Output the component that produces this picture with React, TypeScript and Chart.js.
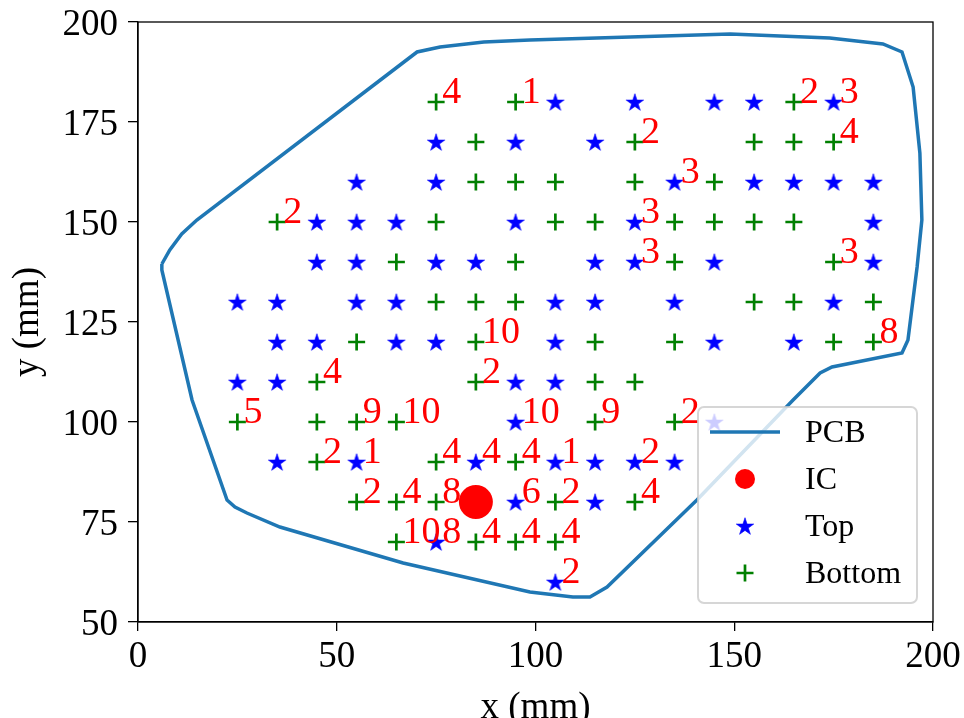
import React, { useEffect, useRef } from "react";
import { Chart, registerables } from "chart.js";

Chart.register(...registerables);

const FONT = "'Liberation Serif', 'Times New Roman', serif";

// PCB outline (mm)
const pcbX = [6, 8, 11, 14.8, 70.2, 76, 87, 98.6, 123.8, 149, 174, 187.4, 192.2, 195, 196.7, 197.2, 196, 193.7, 192.2, 174.6, 171.6, 164.8, 140.6, 118, 113.7, 109.4, 98.6, 66.7, 35.7, 27.4, 24.4, 22.4, 13.6, 6, 6];
const pcbY = [139.5, 143, 147, 150.5, 192.5, 193.75, 195, 195.5, 196.25, 197, 196, 194.5, 192.5, 183.75, 167.25, 150.5, 138.75, 120.5, 117.25, 113.75, 112.25, 105.5, 80.5, 58.75, 56.25, 56.25, 57.5, 64.75, 73.75, 77.25, 78.75, 80.5, 105.5, 138, 139.5];

// IC location
const icX = [85];
const icY = [80];

// Top-side points (stars)
const topX = [
  105, 125, 145, 155, 175,
  75, 95, 115,
  55, 75, 135, 155, 165, 175, 185,
  45, 55, 65, 95, 125, 185,
  45, 55, 75, 85, 115, 125, 145, 185,
  25, 35, 55, 65, 105, 115, 135, 175,
  35, 45, 65, 75, 105, 145, 165,
  25, 35, 95, 105,
  95, 145,
  35, 55, 85, 105, 115, 125, 135,
  95, 115,
  75,
  105,
];
const topY = [
  180, 180, 180, 180, 180,
  170, 170, 170,
  160, 160, 160, 160, 160, 160, 160,
  150, 150, 150, 150, 150, 150,
  140, 140, 140, 140, 140, 140, 140, 140,
  130, 130, 130, 130, 130, 130, 130, 130,
  120, 120, 120, 120, 120, 120, 120,
  110, 110, 110, 110,
  100, 100,
  90, 90, 90, 90, 90, 90, 90,
  80, 80,
  70,
  60,
];

// Bottom-side points (plus)
const bottomX = [
  75, 95, 165,
  85, 125, 155, 165, 175,
  85, 95, 105, 125, 145,
  35, 75, 105, 115, 135, 145, 155, 165,
  65, 95, 135, 175,
  75, 85, 95, 155, 165, 185,
  55, 85, 115, 135, 175, 185,
  45, 85, 115, 125,
  25, 45, 55, 65, 115, 135,
  45, 75, 95,
  55, 65, 75, 105, 125,
  65, 85, 95, 105,
];
const bottomY = [
  180, 180, 180,
  170, 170, 170, 170, 170,
  160, 160, 160, 160, 160,
  150, 150, 150, 150, 150, 150, 150, 150,
  140, 140, 140, 140,
  130, 130, 130, 130, 130, 130,
  120, 120, 120, 120, 120, 120,
  110, 110, 110, 110,
  100, 100, 100, 100, 100, 100,
  90, 90, 90,
  80, 80, 80, 80, 80,
  70, 70, 70, 70,
];

// Red count annotations
const labelX = [75, 95, 165, 175, 125, 175, 135, 35, 125, 125, 175, 85, 185, 45, 85, 25, 55, 65, 95, 115, 135, 45, 55, 75, 85, 95, 105, 125, 55, 65, 75, 95, 105, 125, 65, 75, 85, 95, 105, 105];
const labelY = [180, 180, 180, 180, 170, 170, 160, 150, 150, 140, 140, 120, 120, 110, 110, 100, 100, 100, 100, 100, 100, 90, 90, 90, 90, 90, 90, 90, 80, 80, 80, 80, 80, 80, 70, 70, 70, 70, 70, 60];
const labelText = ["4", "1", "2", "3", "2", "4", "3", "2", "3", "3", "3", "10", "8", "4", "2", "5", "9", "10", "10", "9", "2", "2", "1", "4", "4", "4", "1", "2", "2", "4", "8", "6", "2", "4", "10", "8", "4", "4", "4", "2"];

const xTicks = [0, 50, 100, 150, 200];
const yTicks = [50, 75, 100, 125, 150, 175, 200];

function makeStar(size: number, color: string): HTMLCanvasElement {
  const c = document.createElement("canvas");
  c.width = size;
  c.height = size;
  const ctx = c.getContext("2d")!;
  const cx = size / 2;
  const cy = size / 2 + 0.9;
  const R = 9.2;
  const r = R * 0.382;
  ctx.beginPath();
  for (let i = 0; i < 10; i++) {
    const a = -Math.PI / 2 + (i * Math.PI) / 5;
    const rr = i % 2 === 0 ? R : r;
    ctx.lineTo(cx + rr * Math.cos(a), cy + rr * Math.sin(a));
  }
  ctx.closePath();
  ctx.fillStyle = color;
  ctx.fill();
  ctx.strokeStyle = color;
  ctx.lineWidth = 0.6;
  ctx.stroke();
  return c;
}

export default function App() {
  const ref = useRef<HTMLCanvasElement | null>(null);

  useEffect(() => {
    const canvas = ref.current!;
    const star = makeStar(20, "#0000ff");

    const framePlugin = {
      id: "frame",
      afterDraw(chart: any) {
        const { ctx, chartArea } = chart;
        ctx.save();
        ctx.strokeStyle = "#000";
        ctx.lineWidth = 1.3;
        ctx.strokeRect(chartArea.left, chartArea.top, chartArea.right - chartArea.left, chartArea.bottom - chartArea.top);
        ctx.restore();
      },
    };

    const labelPlugin = {
      id: "countLabels",
      afterDatasetsDraw(chart: any) {
        const { ctx } = chart;
        const xs = chart.scales.x;
        const ys = chart.scales.y;
        ctx.save();
        ctx.font = `38px ${FONT}`;
        ctx.fillStyle = "#ff0000";
        ctx.textAlign = "left";
        ctx.textBaseline = "alphabetic";
        labelX.forEach((v, i) => {
          ctx.fillText(labelText[i], xs.getPixelForValue(v) + 6, ys.getPixelForValue(labelY[i]) + 1);
        });
        ctx.restore();
      },
    };

    const legendPlugin = {
      id: "boxLegend",
      afterDatasetsDraw(chart: any) {
        const { ctx, chartArea } = chart;
        const right = chartArea.right - 16;
        const bottom = chartArea.bottom - 19;
        const w = 219;
        const h = 196;
        const left = right - w;
        const top = bottom - h;
        ctx.save();
        ctx.beginPath();
        if ((ctx as any).roundRect) (ctx as any).roundRect(left, top, w, h, 6);
        else ctx.rect(left, top, w, h);
        ctx.fillStyle = "rgba(255,255,255,0.8)";
        ctx.fill();
        ctx.strokeStyle = "rgba(204,204,204,0.8)";
        ctx.lineWidth = 2;
        ctx.stroke();

        const hx = left + 47;
        ctx.font = `32px ${FONT}`;
        ctx.textAlign = "left";
        ctx.textBaseline = "middle";
        chart.data.datasets.forEach((ds: any, i: number) => {
          const cy = top + 25 + i * 47;
          if (ds.label === "PCB") {
            ctx.strokeStyle = ds.borderColor;
            ctx.lineWidth = ds.borderWidth;
            ctx.beginPath();
            ctx.moveTo(hx - 35, cy);
            ctx.lineTo(hx + 35, cy);
            ctx.stroke();
          } else if (ds.label === "IC") {
            ctx.fillStyle = ds.backgroundColor;
            ctx.beginPath();
            ctx.arc(hx, cy, 10, 0, Math.PI * 2);
            ctx.fill();
          } else if (ds.label === "Top") {
            ctx.drawImage(star, hx - star.width / 2, cy - star.height / 2);
          } else {
            ctx.strokeStyle = ds.borderColor;
            ctx.lineWidth = ds.borderWidth;
            ctx.beginPath();
            ctx.moveTo(hx - 8.5, cy);
            ctx.lineTo(hx + 8.5, cy);
            ctx.moveTo(hx, cy - 8.5);
            ctx.lineTo(hx, cy + 8.5);
            ctx.stroke();
          }
          ctx.fillStyle = "#000";
          ctx.fillText(ds.label, left + 107, cy + 2);
        });
        ctx.restore();
      },
    };

    const tickFont = { family: FONT, size: 37 };

    const chart = new Chart(canvas, {
      type: "scatter",
      data: {
        datasets: [
          {
            label: "PCB",
            type: "line",
            data: pcbX.map((x, i) => ({ x, y: pcbY[i] })),
            borderColor: "#1f77b4",
            backgroundColor: "#1f77b4",
            borderWidth: 3.5,
            pointRadius: 0,
            showLine: true,
            fill: false,
            tension: 0,
            order: 4,
          } as any,
          {
            label: "IC",
            data: icX.map((x, i) => ({ x, y: icY[i] })),
            pointStyle: "circle",
            pointRadius: 17,
            backgroundColor: "#ff0000",
            borderColor: "#ff0000",
            borderWidth: 0,
            order: 3,
          },
          {
            label: "Top",
            data: topX.map((x, i) => ({ x, y: topY[i] })),
            pointStyle: star as any,
            pointRadius: 9,
            backgroundColor: "#0000ff",
            borderColor: "#0000ff",
            order: 2,
          },
          {
            label: "Bottom",
            data: bottomX.map((x, i) => ({ x, y: bottomY[i] })),
            pointStyle: "cross",
            pointRadius: 8.5,
            backgroundColor: "#008000",
            borderColor: "#008000",
            borderWidth: 2.7,
            order: 1,
          },
        ],
      },
      options: {
        animation: false,
        responsive: false,
        devicePixelRatio: 1,
        layout: { padding: { left: 0, right: 31, top: 22, bottom: 0 } },
        plugins: {
          legend: { display: false },
          tooltip: { enabled: false },
        },
        scales: {
          x: {
            type: "linear",
            min: 0,
            max: 200,
            afterBuildTicks: (s: any) => {
              s.ticks = xTicks.map((v) => ({ value: v }));
            },
            afterFit: (s: any) => {
              s.height = 96;
              s.paddingLeft = 0;
              s.paddingRight = 0;
            },
            ticks: { font: tickFont, color: "#000", padding: 4, maxRotation: 0, autoSkip: false },
            grid: { display: true, drawOnChartArea: false, drawTicks: true, tickLength: 9, color: "#000", lineWidth: 1.3 },
            border: { display: true, color: "#000", width: 1.3 },
            title: {
              display: true,
              text: "x (mm)",
              color: "#000",
              font: { family: FONT, size: 37, lineHeight: 1 },
              padding: { top: 0, bottom: -9 },
            },
          },
          y: {
            type: "linear",
            min: 50,
            max: 200,
            afterBuildTicks: (s: any) => {
              s.ticks = yTicks.map((v) => ({ value: v }));
            },
            afterFit: (s: any) => {
              s.width = 138;
              s.paddingTop = 0;
              s.paddingBottom = 0;
            },
            ticks: { font: tickFont, color: "#000", padding: 10, autoSkip: false, labelOffset: 3 },
            grid: { display: true, drawOnChartArea: false, drawTicks: true, tickLength: 10, color: "#000", lineWidth: 1.3 },
            border: { display: true, color: "#000", width: 1.3 },
            title: {
              display: true,
              text: "y (mm)",
              color: "#000",
              font: { family: FONT, size: 37, lineHeight: 1 },
              padding: { top: 10, bottom: 0 },
            },
          },
        },
      } as any,
      plugins: [framePlugin, labelPlugin, legendPlugin],
    });

    return () => chart.destroy();
  }, []);

  return (
    <div style={{ position: "absolute", left: 0, top: 0, width: 964, height: 718, background: "#fff" }}>
      <canvas ref={ref} width={964} height={718} style={{ display: "block", width: 964, height: 718 }} />
    </div>
  );
}
